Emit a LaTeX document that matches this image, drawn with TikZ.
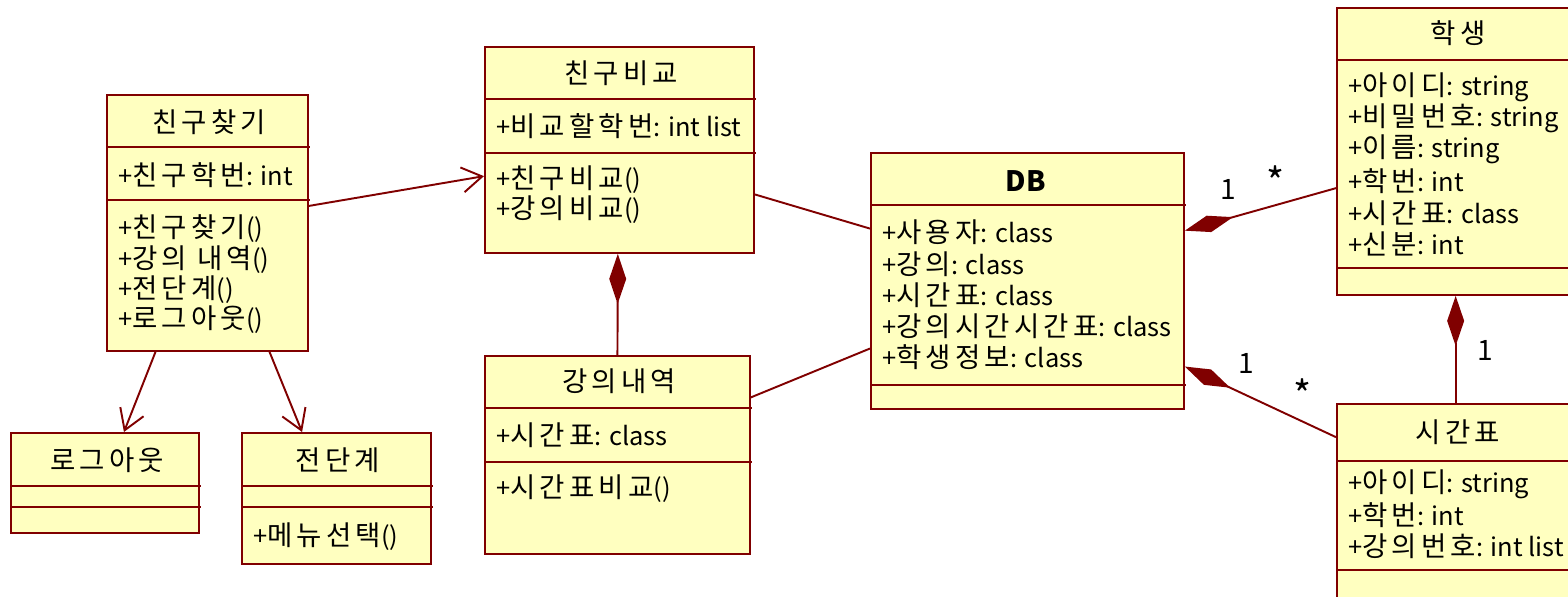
\documentclass[tikz,border=0pt]{standalone}
\usepackage{fontspec}
\setmainfont{Noto Sans CJK KR}
\newfontfamily\hgfont[Scale=1.08,LetterSpace=15]{Noto Sans CJK KR}
\newcommand{\hg}[1]{{\hgfont #1}}
\usetikzlibrary{calc,arrows.meta}
\definecolor{umlred}{RGB}{128,0,0}
\definecolor{umlfill}{RGB}{255,255,192}

\begin{document}
\begin{tikzpicture}[x=0.02cm,y=-0.02cm,
    classbox/.style={draw=umlred,fill=umlfill,line width=1.1pt,inner sep=0pt,anchor=north west},
    sepline/.style={umlred,line width=1.1pt},
    title/.style={inner sep=0pt,font=\fontsize{14.5}{16}\selectfont},
    attr/.style={anchor=west,inner sep=0pt,font=\fontsize{14.5}{16}\selectfont},
    conn/.style={umlred,line width=1.1pt},
    mult/.style={inner sep=0pt,text=black,font=\fontsize{16}{18}\selectfont},
    comp/.style={conn,{Diamond[length=1cm,width=0.34cm]}-}]

    \useasboundingbox (0,0) rectangle (1568,596);
    \clip (0,0) rectangle (1568,596);

    % 친구찾기
    \begin{scope}[shift={(106,94)}]
        \node[classbox,minimum width=4.02cm,minimum height=5.12cm] (chingu) at (0,0) {};
        \node[title] at (103,28) {\hg{친구찾기}};
        \node[attr] at (12,81) {+\hg{친구학번}: int};
        \node[attr] at (12,135) {+\hg{친구찾기}()};
        \node[attr] at (12,166) {+\hg{강의 내역}()};
        \node[attr] at (12,196) {+\hg{전단계}()};
        \node[attr] at (12,226) {+\hg{로그아웃}()};
        \draw[sepline] (0,53) -- (204,53);
        \draw[sepline] (0,106) -- (204,106);
    \end{scope}

    % 로그아웃
    \begin{scope}[shift={(10,432)}]
        \node[classbox,minimum width=3.76cm,minimum height=2cm] (logout) at (0,0) {};
        \node[title] at (97,28) {\hg{로그아웃}};
        \draw[sepline] (0,54) -- (191,54);
        \draw[sepline] (0,75) -- (191,75);
    \end{scope}

    % 전단계
    \begin{scope}[shift={(241,432)}]
        \node[classbox,minimum width=3.78cm,minimum height=2.62cm] (jeondan) at (0,0) {};
        \node[title] at (97,28) {\hg{전단계}};
        \node[attr] at (12,105) {+\hg{메뉴선택}()};
        \draw[sepline] (0,54) -- (192,54);
        \draw[sepline] (0,75) -- (192,75);
    \end{scope}

    % 친구비교
    \begin{scope}[shift={(484,46)}]
        \node[classbox,minimum width=5.38cm,minimum height=4.12cm] (bigyo) at (0,0) {};
        \node[title] at (137,27) {\hg{친구비교}};
        \node[attr] at (12,80) {+\hg{비교할학번}: int list};
        \node[attr] at (12,134) {+\hg{친구비교}()};
        \node[attr] at (12,164) {+\hg{강의비교}()};
        \draw[sepline] (0,53) -- (272,53);
        \draw[sepline] (0,107) -- (272,107);
    \end{scope}

    % 강의내역
    \begin{scope}[shift={(484,355)}]
        \node[classbox,minimum width=5.3cm,minimum height=3.96cm] (gangui) at (0,0) {};
        \node[title] at (135,26) {\hg{강의내역}};
        \node[attr] at (12,80) {+\hg{시간표}: class};
        \node[attr] at (12,134) {+\hg{시간표비교}()};
        \draw[sepline] (0,53) -- (268,53);
        \draw[sepline] (0,107) -- (268,107);
    \end{scope}

    % DB
    \begin{scope}[shift={(870,152)}]
        \node[classbox,minimum width=6.26cm,minimum height=5.12cm] (db) at (0,0) {};
        \node[title,font=\fontsize{16}{18}\selectfont] at (156,29) {\textbf{DB}};
        \node[attr] at (12,80) {+\hg{사용자}: class};
        \node[attr] at (12,112) {+\hg{강의}: class};
        \node[attr] at (12,143) {+\hg{시간표}: class};
        \node[attr] at (12,174) {+\hg{강의시간시간표}: class};
        \node[attr] at (12,205) {+\hg{학생정보}: class};
        \draw[sepline] (0,53) -- (316,53);
        \draw[sepline] (0,233) -- (316,233);
    \end{scope}

    % 학생
    \begin{scope}[shift={(1336,7)}]
        \node[classbox,minimum width=5.28cm,minimum height=5.74cm] (haksaeng) at (0,0) {};
        \node[title] at (122,26) {\hg{학생}};
        \node[attr] at (12,80) {+\hg{아이디}: string};
        \node[attr] at (12,111) {+\hg{비밀번호}: string};
        \node[attr] at (12,142) {+\hg{이름}: string};
        \node[attr] at (12,174) {+\hg{학번}: int};
        \node[attr] at (12,206) {+\hg{시간표}: class};
        \node[attr] at (12,237) {+\hg{신분}: int};
        \draw[sepline] (0,53) -- (264,53);
        \draw[sepline] (0,261) -- (264,261);
    \end{scope}

    % 시간표
    \begin{scope}[shift={(1336,403)}]
        \node[classbox,minimum width=5.28cm,minimum height=4.74cm] (sigan) at (0,0) {};
        \node[title] at (122,29) {\hg{시간표}};
        \node[attr] at (12,81) {+\hg{아이디}: string};
        \node[attr] at (12,112) {+\hg{학번}: int};
        \node[attr] at (12,143) {+\hg{강의번호}: int list};
        \draw[sepline] (0,58) -- (264,58);
        \draw[sepline] (0,167) -- (264,167);
    \end{scope}

    % connectors
    \draw[conn,-{Straight Barb[length=4mm,width=5mm]}] ($(chingu.north east)!0.434!(chingu.south east)$) -- ($(bigyo.north west)!0.626!(bigyo.south west)$);
    \draw[conn,-{Straight Barb[length=4mm,width=5mm]}] ($(chingu.south west)!0.244!(chingu.south east)$) -- ($(logout.north west)!0.6!(logout.north east)$);
    \draw[conn,-{Straight Barb[length=4mm,width=5mm]}] ($(chingu.south west)!0.806!(chingu.south east)$) -- ($(jeondan.north west)!0.32!(jeondan.north east)$);

    \draw[conn] ($(bigyo.north east)!0.714!(bigyo.south east)$) -- ($(db.north west)!0.297!(db.south west)$);
    \draw[conn] ($(gangui.north east)!0.212!(gangui.south east)$) -- ($(db.north west)!0.762!(db.south west)$);
    \draw[comp] ($(bigyo.south west)!0.494!(bigyo.south east)$) -- ($(gangui.north west)!0.5!(gangui.north east)$);

    \draw[comp] ($(db.north east)!0.305!(db.south east)$) -- ($(haksaeng.north west)!0.627!(haksaeng.south west)$)
        node[mult,pos=0.29,yshift=0.58cm] {1}
        node[mult,pos=0.6,yshift=0.48cm,font=\fontsize{22}{24}\selectfont] {*};
    \draw[comp] ($(db.north east)!0.832!(db.south east)$) -- ($(sigan.north west)!0.143!(sigan.south west)$)
        node[mult,pos=0.405,yshift=0.64cm] {1}
        node[mult,pos=0.78,yshift=0.56cm,font=\fontsize{22}{24}\selectfont] {*};
    \draw[comp] ($(haksaeng.south west)!0.45!(haksaeng.south east)$) -- ($(sigan.north west)!0.45!(sigan.north east)$)
        node[mult,pos=0.51,xshift=0.6cm] {1};

\end{tikzpicture}
\end{document}
